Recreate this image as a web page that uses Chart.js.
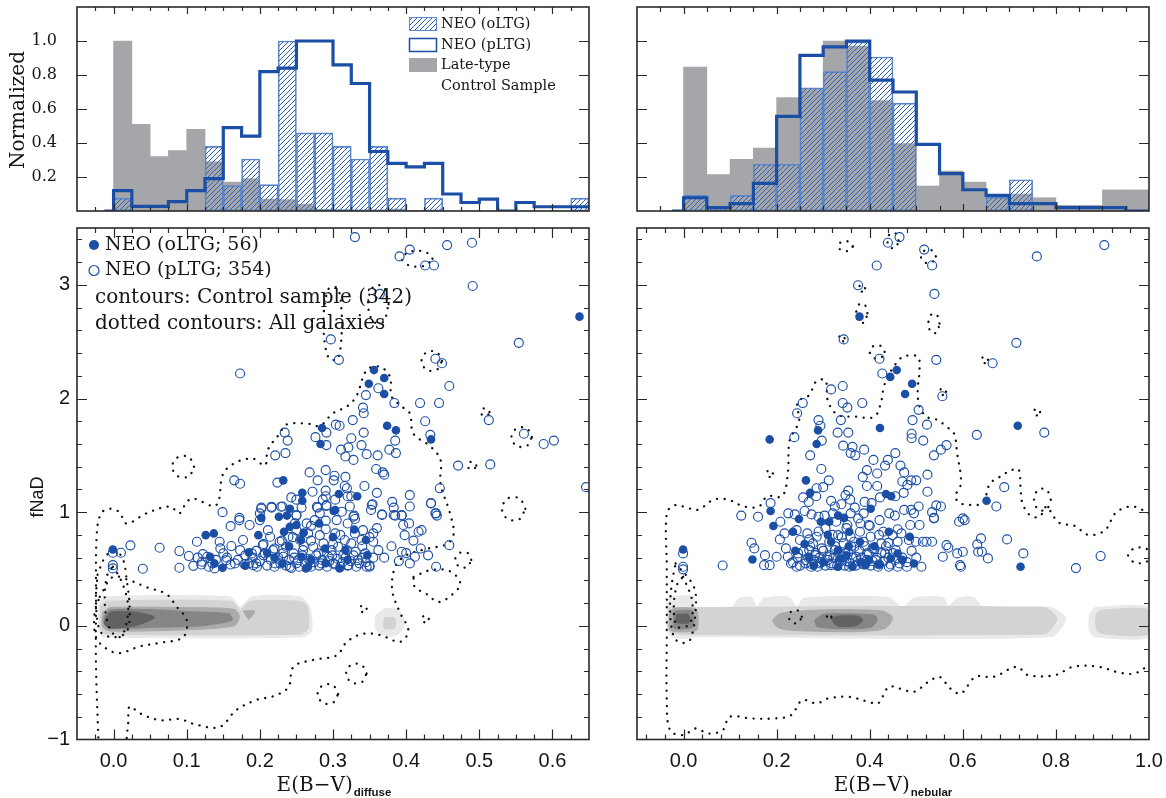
<!DOCTYPE html>
<html>
<head>
<meta charset="utf-8">
<title>NEO E(B-V) vs fNaD</title>
<script src="https://cdn.jsdelivr.net/npm/chart.js@4.4.1/dist/chart.umd.min.js"></script>
<style>
  html, body { margin: 0; padding: 0; background: #fff; }
  #page { position: relative; width: 1166px; height: 798px; overflow: hidden; }
  #page canvas { position: absolute; }
</style>
</head>
<body>
<div id="page">
  <canvas id="histDiffuse" width="600" height="220" style="left:0px;top:0px"></canvas>
  <canvas id="histNebular" width="566" height="220" style="left:600px;top:0px"></canvas>
  <canvas id="scatDiffuse" width="600" height="578" style="left:0px;top:220px"></canvas>
  <canvas id="scatNebular" width="566" height="578" style="left:600px;top:220px"></canvas>
</div>
<script>
const BLUE = '#1b4ea5';
const GREY = '#a5a6a9';

// ---- histograms, E(B-V)diffuse, bins of 0.025 ----
const diffuseCentres = [0.0125, 0.0375, 0.0625, 0.0875, 0.1125, 0.1375, 0.1625, 0.1875, 0.2125, 0.2375, 0.2625, 0.2875, 0.3125,
  0.3375, 0.3625, 0.3875, 0.4125, 0.4375, 0.4625, 0.4875, 0.5125, 0.5375, 0.5625, 0.5875, 0.6125, 0.6375];
const diffuseEdges = [0, 0.025, 0.05, 0.075, 0.1, 0.125, 0.15, 0.175, 0.2, 0.225, 0.25, 0.275, 0.3, 0.325, 0.35, 0.375,
  0.4, 0.425, 0.45, 0.475, 0.5, 0.525, 0.55, 0.575, 0.6, 0.625, 0.65];
const diffuseControl = [1.0, 0.51, 0.32, 0.355, 0.48, 0.29, 0.17, 0.19, 0.07, 0.067, 0.04, 0.01, 0.008, 0.006, 0.005, 0.012,
  0.004, 0, 0, 0, 0, 0, 0, 0, 0, 0];
const diffuseOLTG = [0.076, 0, 0, 0, 0, 0.38, 0.15, 0.306, 0.155, 1.0, 0.46, 0.46, 0.38, 0.306, 0.38, 0.076, 0, 0.076,
  0, 0, 0, 0, 0, 0, 0, 0.076];
const diffusePLTG = [0.12, 0.027, 0.027, 0.055, 0.12, 0.19, 0.49, 0.44, 0.82, 0.84, 1.0, 1.0, 0.86, 0.75, 0.35, 0.28,
  0.26, 0.28, 0.1, 0.05, 0.07, 0, 0.05, 0.025, 0.025, 0.025];

// ---- histograms, E(B-V)nebular, bins of 0.05 ----
const nebularCentres = [0.025, 0.075, 0.125, 0.175, 0.225, 0.275, 0.325, 0.375, 0.425, 0.475, 0.525, 0.575, 0.625, 0.675,
  0.725, 0.775, 0.825, 0.875, 0.925, 0.975];
const nebularEdges = [0, 0.05, 0.1, 0.15, 0.2, 0.25, 0.3, 0.35, 0.4, 0.45, 0.5, 0.55, 0.6, 0.65, 0.7, 0.75, 0.8, 0.85,
  0.9, 0.95, 1.0];
const nebularControl = [0.847, 0.214, 0.304, 0.37, 0.667, 0.72, 1.0, 0.97, 0.65, 0.396, 0.147, 0.235, 0.17, 0.096, 0.1,
  0.078, 0.033, 0.033, 0.124, 0.124];
const nebularOLTG = [0.092, 0.02, 0.092, 0.275, 0.275, 0.725, 0.82, 0.994, 0.906, 0.635, 0, 0, 0, 0.082, 0.184, 0, 0, 0, 0, 0];
const nebularPLTG = [0.078, 0.02, 0.043, 0.163, 0.557, 0.916, 0.965, 1.0, 0.77, 0.70, 0.392, 0.22, 0.125, 0.092, 0.043,
  0.043, 0.02, 0.02, 0.02, 0];

// ---- tick labels ----
const diffuseTicks = [0, 0.1, 0.2, 0.3, 0.4, 0.5, 0.6];
const nebularTicks = [0, 0.2, 0.4, 0.6, 0.8, 1.0];
const normTicks = [0.2, 0.4, 0.6, 0.8, 1.0];
const fnadTicks = [-1, 0, 1, 2, 3];

// ---- scatter: E(B-V)diffuse vs fNaD ----
const oLTGdiffuse = [
  [0.637,2.72],[0.356,2.25],[0.370,2.18],[0.349,2.13],[0.370,2.04],[0.374,1.76],[0.386,1.72],[0.434,1.64],[0.285,1.74],
  [0.283,1.60],[0.232,1.28],[0.258,1.17],[0.258,1.10],[0.308,1.16],[0.333,1.14],[0.241,1.03],[0.301,1.01],[0.226,0.96],
  [0.237,0.97],[0.202,0.95],[-0.001,0.672],[0.126,0.798],[0.137,0.813],[0.132,0.608],[0.138,0.549],[0.149,0.511],
  [0.185,0.646],[0.198,0.798],[0.233,0.828],[0.241,0.872],[0.231,0.549],[0.25,0.887],[0.256,0.755],[0.257,0.608],
  [0.263,0.505],[0.266,0.52],[0.281,0.901],[0.289,0.681],[0.303,1.019],[0.317,0.666],[0.309,0.505],[0.329,0.848],
  [0.347,0.622],[0.345,0.755],[0.22,0.60],[0.27,0.58],[0.29,0.55],[0.24,0.70],[0.30,0.78],[0.21,0.64],[0.32,0.58],
  [0.18,0.53],[0.26,0.82]
];
const pLTGdiffuse = [
  [0.330,3.42],[0.391,3.25],[0.405,3.31],[0.426,3.17],[0.438,3.17],[0.456,3.35],[0.490,3.37],[0.491,2.99],[0.364,2.92],
  [0.297,2.52],[0.308,2.34],[0.554,2.49],[0.173,2.22],[0.440,2.35],[0.449,2.31],[0.459,2.11],[0.362,2.09],[0.345,2.03],
  [0.384,1.96],[0.419,1.96],[0.445,1.96],[0.341,1.92],[0.342,1.87],[0.327,1.81],[0.304,1.77],[0.309,1.76],[0.426,1.80],
  [0.513,1.81],[0.234,1.70],[0.291,1.70],[0.342,1.70],[0.433,1.68],[0.238,1.63],[0.276,1.66],[0.325,1.65],[0.385,1.63],
  [0.561,1.69],[0.588,1.60],[0.602,1.63],[0.291,1.59],[0.339,1.59],[0.311,1.55],[0.321,1.57],[0.221,1.50],[0.235,1.52],
  [0.317,1.49],[0.328,1.46],[0.346,1.51],[0.361,1.50],[0.377,1.55],[0.386,1.52],[0.471,1.41],[0.515,1.42],[0.646,1.22],
  [0.268,1.35],[0.290,1.37],[0.302,1.32],[0.301,1.28],[0.317,1.31],[0.359,1.38],[0.368,1.35],[0.370,1.33],[0.279,1.28],
  [0.343,1.23],[0.165,1.28],[0.173,1.25],[0.224,1.26],[0.316,1.23],[0.319,1.21],[0.446,1.21],[0.290,1.19],[0.272,1.18],
  [0.360,1.17],[0.290,1.14],[0.243,1.13],[0.250,1.11],[0.286,1.11],[0.320,1.14],[0.325,1.14],[0.405,1.15],[0.434,1.08],
  [0.381,1.09],[0.354,1.07],[0.405,1.05],[0.383,1.04],[0.149,1.00],[0.202,1.04],[0.216,1.04],[0.231,1.05],[0.257,1.04],
  [0.279,1.04],[0.291,1.06],[0.303,1.11],[0.323,1.05],[0.329,0.97],[0.352,1.02],[0.367,0.98],[0.385,0.97],[0.394,0.97],
  [0.440,0.99],[0.442,0.97],[0.172,0.95],[0.200,0.99],[0.250,0.97],[0.282,0.99],
  [-0.001,0.643],[0.010,0.643],[0.023,0.708],[-0.001,0.534],[-0.001,0.505],[0.040,0.502],[0.063,0.687],[0.090,0.658],
  [0.103,0.614],[0.090,0.511],[0.109,0.528],[0.114,0.740],[0.122,0.631],[0.121,0.564],[0.128,0.608],[0.130,0.520],
  [0.138,0.505],[0.145,0.740],[0.146,0.681],[0.150,0.637],[0.154,0.578],[0.160,0.877],[0.161,0.702],[0.166,0.549],
  [0.172,0.930],[0.173,0.666],[0.177,0.755],[0.179,0.543],[0.186,0.887],[0.189,0.637],[0.191,0.534],[0.195,0.549],
  [0.200,0.930],[0.202,1.030],[0.204,0.710],[0.207,0.637],[0.211,0.842],[0.214,0.784],[0.216,1.048],[0.218,0.666],
  [0.221,0.549],[0.227,0.740],[0.229,1.048],[0.232,0.608],[0.236,0.696],[0.239,0.784],[0.241,0.520],[0.246,0.637],
  [0.248,0.901],[0.250,0.975],[0.252,0.578],[0.255,0.755],[0.259,0.666],[0.264,0.901],[0.266,0.813],[0.269,0.578],
  [0.273,0.696],[0.275,0.930],[0.278,1.048],[0.280,0.637],[0.282,0.798],[0.284,0.549],[0.287,0.725],[0.290,0.925],
  [0.291,1.054],[0.294,0.608],[0.298,0.666],[0.300,0.549],[0.303,0.813],[0.305,0.930],[0.307,0.696],[0.312,1.004],
  [0.314,0.622],[0.316,0.755],[0.319,0.666],[0.321,0.534],[0.325,0.725],[0.328,0.960],[0.330,0.813],[0.331,0.652],
  [0.334,0.578],[0.339,0.755],[0.341,0.842],[0.344,0.637],[0.346,0.520],[0.350,0.520],[0.353,1.063],[0.355,0.813],
  [0.355,0.740],[0.362,0.666],[0.367,0.975],[0.383,0.975],[0.394,0.652],[0.394,0.975],[0.396,0.887],[0.398,0.798],
  [0.404,0.901],[0.405,0.549],[0.412,0.608],[0.417,0.828],[0.421,0.842],[0.434,1.077],[0.441,0.989],[0.441,0.520],
  [0.459,0.710],
  [0.185,0.55],[0.19,0.60],[0.196,0.52],[0.20,0.57],[0.205,0.62],[0.21,0.53],[0.215,0.58],[0.22,0.52],[0.225,0.60],
  [0.228,0.55],[0.232,0.64],[0.236,0.53],[0.24,0.58],[0.243,0.51],[0.247,0.60],[0.25,0.55],[0.254,0.52],[0.258,0.62],
  [0.262,0.55],[0.266,0.59],[0.27,0.52],[0.274,0.56],[0.277,0.62],[0.281,0.53],[0.285,0.58],[0.288,0.65],[0.292,0.52],
  [0.295,0.57],[0.299,0.62],[0.303,0.54],[0.306,0.59],[0.31,0.52],[0.313,0.56],[0.317,0.60],[0.32,0.53],[0.324,0.57],
  [0.328,0.62],[0.332,0.52],[0.336,0.55],[0.34,0.60],[0.345,0.56],[0.35,0.53],[0.355,0.60],[0.26,0.70],[0.27,0.75],
  [0.245,0.78],[0.30,0.72],[0.31,0.80],[0.29,0.85],[0.32,0.90],[0.34,0.70],[0.35,0.78],[0.36,0.86],[0.33,0.94],
  [0.27,0.88],[0.25,0.84],[0.23,0.75],[0.22,0.68],[0.205,0.72],[0.195,0.66],[0.18,0.62],[0.17,0.58],[0.16,0.54],
  [0.155,0.60],[0.14,0.58],[0.135,0.55],[0.12,0.54],[0.115,0.60],[0.37,0.60],[0.38,0.70],[0.39,0.57],[0.40,0.64],
  [0.41,0.75],[0.42,0.68],[0.43,0.62]
];

// ---- scatter: E(B-V)nebular vs fNaD ----
const oLTGnebular = [
  [0.378,2.72],[0.458,2.25],[0.444,2.19],[0.491,2.13],[0.476,2.04],[0.422,1.74],[0.718,1.76],[0.185,1.64],[0.289,1.72],
  [0.286,1.60],[0.263,1.28],[0.272,1.17],[0.435,1.16],[0.446,1.14],[0.651,1.10],[0.187,1.01],[0.402,1.03],[0.332,0.97],
  [0.345,0.95],[0.248,0.94],[-0.001,0.672],[0.193,0.878],[0.148,0.584],[0.235,0.828],[0.295,0.916],[0.313,0.916],
  [0.317,0.74],[0.332,0.666],[0.336,0.593],[0.332,0.52],[0.356,0.828],[0.363,0.52],[0.379,0.74],[0.391,0.534],
  [0.398,0.578],[0.441,0.828],[0.445,0.593],[0.46,0.637],[0.486,0.784],[0.495,0.549],[0.724,0.52],[0.27,0.60],
  [0.30,0.56],[0.35,0.62],[0.41,0.70],[0.26,0.72],[0.38,0.56],[0.42,0.54],[0.31,0.80],[0.47,0.58],[0.24,0.66],
  [0.355,0.70],[0.28,0.53]
];
const pLTGnebular = [
  [0.464,3.42],[0.439,3.37],[0.517,3.31],[0.534,3.17],[0.415,3.17],[0.904,3.35],[0.759,3.25],[0.375,2.996],[0.539,2.92],
  [0.344,2.52],[0.715,2.49],[0.421,2.35],[0.543,2.34],[0.664,2.31],[0.427,2.22],[0.317,2.08],[0.342,2.11],[0.556,2.02],
  [0.256,1.96],[0.342,1.96],[0.384,1.96],[0.244,1.87],[0.352,1.92],[0.505,1.90],[0.290,1.81],[0.338,1.81],[0.492,1.81],
  [0.294,1.76],[0.331,1.70],[0.354,1.70],[0.523,1.77],[0.775,1.70],[0.238,1.66],[0.490,1.69],[0.490,1.65],[0.630,1.68],
  [0.297,1.63],[0.515,1.63],[0.343,1.585],[0.363,1.575],[0.388,1.55],[0.565,1.59],[0.553,1.55],[0.272,1.50],[0.359,1.52],
  [0.369,1.50],[0.455,1.52],[0.538,1.50],[0.408,1.46],[0.433,1.41],[0.466,1.41],[0.439,1.46],[0.296,1.38],[0.394,1.37],
  [0.385,1.31],[0.416,1.34],[0.474,1.35],[0.524,1.33],[0.312,1.28],[0.300,1.22],[0.286,1.21],[0.394,1.23],[0.416,1.23],
  [0.470,1.27],[0.481,1.24],[0.489,1.28],[0.500,1.28],[0.354,1.19],[0.524,1.18],[0.689,1.22],[0.257,1.13],[0.269,1.09],
  [0.285,1.14],[0.317,1.10],[0.325,1.05],[0.339,1.07],[0.348,1.15],[0.358,1.11],[0.368,1.04],[0.389,1.09],[0.404,1.08],
  [0.422,1.13],[0.455,1.14],[0.473,1.17],[0.489,1.02],[0.505,1.05],[0.534,1.00],[0.543,1.06],[0.553,1.05],[0.672,1.05],
  [0.187,1.08],[0.124,0.97],[0.160,0.96],[0.225,0.99],[0.239,0.98],[0.260,1.01],[0.275,0.98],[0.303,0.97],[0.321,0.99],
  [0.359,0.99],[0.387,0.99],[0.442,0.99],[0.454,0.97],[0.474,1.02],[0.495,0.99],[0.538,0.95],[0.600,0.945],
  [-0.001,0.637],[-0.001,0.52],[-0.001,0.497],[0.084,0.531],[0.146,0.731],[0.152,0.681],[0.173,0.534],[0.185,0.534],
  [0.175,0.622],[0.200,0.608],[0.207,0.760],[0.208,0.916],[0.217,0.813],[0.220,0.681],[0.224,0.608],[0.231,0.549],
  [0.243,0.842],[0.243,0.520],[0.246,0.637],[0.250,0.755],[0.262,0.578],[0.266,0.813],[0.270,0.666],[0.274,0.520],
  [0.278,0.725],[0.282,0.622],[0.286,0.784],[0.290,0.960],[0.293,0.549],[0.297,0.681],[0.305,0.857],[0.309,0.608],
  [0.313,0.740],[0.317,0.534],[0.325,0.666],[0.328,0.916],[0.332,0.798],[0.336,0.578],[0.344,0.725],[0.348,0.637],
  [0.352,0.887],[0.356,0.520],[0.359,0.784],[0.367,0.696],[0.371,0.608],[0.375,0.945],[0.379,0.828],[0.383,0.549],
  [0.387,0.740],[0.394,0.637],[0.398,0.887],[0.402,0.784],[0.406,0.681],[0.414,0.578],[0.418,0.520],[0.421,0.930],
  [0.425,0.725],[0.429,0.828],[0.433,0.637],[0.441,0.520],[0.449,0.798],[0.456,0.666],[0.460,0.740],[0.464,0.549],
  [0.468,0.813],[0.480,0.520],[0.484,0.755],[0.487,0.887],[0.499,0.740],[0.507,0.887],[0.511,0.520],[0.514,0.740],
  [0.522,0.740],[0.534,0.740],[0.538,0.945],[0.557,0.608],[0.565,0.710],[0.569,0.687],[0.588,0.637],[0.592,0.916],
  [0.594,0.534],[0.596,0.520],[0.600,0.652],[0.604,0.930],[0.631,0.716],[0.633,0.652],[0.639,0.769],[0.641,0.652],
  [0.654,0.593],[0.695,0.760],[0.730,0.637],[0.843,0.508],[0.896,0.614],
  [0.235,0.56],[0.245,0.60],[0.25,0.53],[0.258,0.66],[0.262,0.55],[0.268,0.60],[0.272,0.70],[0.276,0.54],[0.28,0.58],
  [0.284,0.64],[0.288,0.52],[0.292,0.60],[0.296,0.56],[0.30,0.66],[0.305,0.53],[0.31,0.58],[0.314,0.62],[0.318,0.55],
  [0.322,0.60],[0.326,0.70],[0.33,0.53],[0.334,0.64],[0.338,0.57],[0.342,0.61],[0.346,0.53],[0.35,0.57],[0.354,0.65],
  [0.358,0.55],[0.362,0.60],[0.366,0.74],[0.37,0.53],[0.374,0.57],[0.378,0.66],[0.382,0.60],[0.386,0.54],[0.39,0.70],
  [0.394,0.58],[0.398,0.63],[0.402,0.53],[0.406,0.57],[0.41,0.67],[0.415,0.60],[0.42,0.54],[0.425,0.64],[0.43,0.57],
  [0.435,0.70],[0.44,0.60],[0.445,0.54],[0.45,0.64],[0.455,0.58],[0.46,0.52],[0.47,0.60],[0.48,0.56],[0.49,0.66],
  [0.50,0.60],[0.32,0.80],[0.35,0.86],[0.38,0.90],[0.40,0.88],[0.29,0.83],[0.27,0.76],[0.42,0.80],[0.44,0.73],
  [0.46,0.85],[0.34,0.78],[0.36,0.70]
];

// ---- control-sample filled contours (lightest -> darkest) ----
const diffuseLevel1 = [
  [[-0.02,0.2],[-0.012,0.255],[0.159,0.255],[0.173,0.167],[0.189,0.255],[0.255,0.255],[0.268,0.167],[0.271,-0.04],[0.259,-0.097],[-0.012,-0.097],[-0.02,-0.05]],
  [[0.358,0.09],[0.37,0.149],[0.385,0.149],[0.396,0.09],[0.396,-0.025],[0.385,-0.085],[0.37,-0.085],[0.358,-0.025]]
];
const diffuseLevel2 = [
  [[-0.018,0.17],[-0.01,0.215],[0.162,0.215],[0.173,0.14],[0.186,0.215],[0.255,0.215],[0.265,0.17],[0.266,-0.02],[0.255,-0.072],[-0.01,-0.072],[-0.018,-0.03]],
  [[0.37,0.07],[0.384,0.07],[0.384,-0.02],[0.37,-0.02]]
];
const diffuseLevel3 = [
  [[-0.015,0.12],[-0.005,0.16],[0.1,0.16],[0.165,0.145],[0.172,0.08],[0.165,0.0],[0.1,-0.035],[-0.005,-0.045],[-0.015,-0.01]],
  [[0.177,0.13],[0.193,0.13],[0.185,0.06]]
];
const diffuseLevel4 = [
  [[-0.013,0.08],[-0.005,0.14],[0.06,0.14],[0.1,0.125],[0.158,0.105],[0.162,0.05],[0.12,0.0],[0.06,-0.012],[-0.005,-0.022],[-0.013,0.02]],
  [[0.085,0.09],[0.105,0.1],[0.11,0.075],[0.09,0.07]]
];
const diffuseLevel5 = [
  [[-0.012,0.05],[-0.004,0.12],[0.03,0.12],[0.056,0.075],[0.03,0.0],[-0.004,-0.02],[-0.012,0.01]]
];
const nebularLevel1 = [
  [[-0.036,0.226],[-0.025,0.256],[0.022,0.256],[0.026,0.162],[0.103,0.162],[0.119,0.241],[0.146,0.25],[0.158,0.168],[0.173,0.244],[0.227,0.25],[0.243,0.168],[0.259,0.244],[0.441,0.25],[0.472,0.162],[0.495,0.244],[0.557,0.25],[0.569,0.173],[0.588,0.244],[0.623,0.25],[0.646,0.162],[0.79,0.162],[0.821,0.065],[0.79,-0.096],[0.022,-0.096],[0.01,-0.11],[-0.025,-0.096],[-0.036,-0.04]],
  [[0.883,0.162],[1.0,0.162],[1.0,-0.096],[0.883,-0.096],[0.872,-0.04],[0.872,0.095]]
];
const nebularLevel2 = [
  [[-0.032,0.16],[0.775,0.16],[0.802,0.065],[0.782,-0.06],[0.75,-0.075],[0.0,-0.075],[-0.032,-0.04]],
  [[0.9,0.14],[1.0,0.14],[1.0,-0.07],[0.9,-0.07],[0.888,-0.04],[0.885,0.04],[0.888,0.11]]
];
const nebularLevel3 = [
  [[0.191,0.05],[0.208,0.109],[0.286,0.138],[0.425,0.132],[0.449,0.074],[0.433,-0.023],[0.363,-0.052],[0.224,-0.037],[0.2,-0.008]],
  [[-0.03,0.12],[-0.02,0.155],[0.02,0.155],[0.03,0.12],[0.03,-0.03],[0.02,-0.05],[-0.02,-0.05],[-0.03,-0.03]]
];
const nebularLevel4 = [
  [[0.282,0.05],[0.301,0.103],[0.41,0.094],[0.416,0.05],[0.402,-0.014],[0.317,-0.023],[0.286,-0.003]],
  [[-0.02,0.13],[0.018,0.13],[0.022,0.0],[0.015,-0.02],[-0.02,-0.02]]
];
const nebularLevel5 = [
  [[0.317,0.06],[0.33,0.085],[0.375,0.085],[0.385,0.05],[0.37,0.0],[0.33,0.0]],
  [[-0.015,0.1],[0.01,0.1],[0.013,0.03],[-0.015,0.03]]
];

// ---- all-galaxy dotted contours ----
const diffuseDotted = [
  [[-0.0205,-1.05],[-0.024,-0.36],[-0.024,0.226],[-0.023,0.81],[-0.017,0.99],[-0.005,1.03],[0.008,1.0],[0.0175,0.9],[0.045,0.99],[0.077,1.05],[0.09,0.99],[0.1,1.09],[0.109,1.12],[0.14,1.06],[0.15,1.34],[0.168,1.44],[0.191,1.47],[0.207,1.41],[0.211,1.55],[0.227,1.69],[0.236,1.77],[0.264,1.78],[0.282,1.76],[0.3,1.87],[0.319,1.93],[0.332,2.02],[0.346,2.25],[0.364,2.28],[0.378,2.19],[0.38,2.02],[0.394,1.93],[0.405,1.87],[0.41,1.69],[0.433,1.58],[0.447,1.46],[0.447,1.25],[0.46,0.99],[0.465,0.81],[0.456,0.72],[0.43,0.68],[0.4,0.62],[0.385,0.52],[0.381,0.31],[0.392,0.11],[0.403,-0.04],[0.392,-0.14],[0.364,-0.08],[0.341,-0.07],[0.319,-0.14],[0.305,-0.26],[0.273,-0.3],[0.246,-0.36],[0.239,-0.54],[0.218,-0.62],[0.196,-0.65],[0.168,-0.74],[0.145,-0.89],[0.113,-0.87],[0.09,-0.82],[0.063,-0.83],[0.036,-0.77],[0.022,-0.71],[0.02,-0.85],[0.017,-1.05]],
  [[-0.019,0.255],[-0.001,0.43],[0.022,0.40],[0.045,0.34],[0.072,0.28],[0.086,0.17],[0.1,0.05],[0.095,-0.10],[0.063,-0.15],[0.036,-0.18],[0.008,-0.24],[-0.01,-0.2],[-0.024,-0.1],[-0.026,0.11],[-0.019,0.255]],
  [[-0.001,0.52],[0.008,0.43],[0.017,0.28],[0.02,0.14],[0.015,-0.04],[0.008,-0.1],[-0.003,-0.05],[-0.01,0.08],[-0.012,0.28],[-0.008,0.46],[-0.001,0.52]],
  [[-0.022,0.45],[-0.012,0.6],[0.0,0.66],[0.012,0.6],[0.018,0.4],[0.022,0.15],[0.018,-0.05],[0.0,-0.1],[-0.018,-0.05],[-0.024,0.2],[-0.022,0.45]],
  [[0.41,0.43],[0.433,0.49],[0.46,0.48],[0.474,0.37],[0.46,0.26],[0.444,0.21],[0.428,0.28],[0.412,0.34],[0.41,0.43]],
  [[0.110,1.40],[0.103,1.484],[0.088,1.484],[0.080,1.40],[0.088,1.316],[0.103,1.316],[0.110,1.40]],
  [[0.563,1.03],[0.555,1.121],[0.539,1.121],[0.531,1.03],[0.539,0.939],[0.555,0.939],[0.563,1.03]],
  [[0.572,1.66],[0.565,1.737],[0.551,1.737],[0.544,1.66],[0.551,1.583],[0.565,1.583],[0.572,1.66]],
  [[0.449,2.33],[0.442,2.407],[0.428,2.407],[0.421,2.33],[0.428,2.253],[0.442,2.253],[0.449,2.33]],
  [[0.376,2.83],[0.369,2.983],[0.355,2.983],[0.348,2.83],[0.355,2.677],[0.369,2.677],[0.376,2.83]],
  [[0.313,2.66],[0.307,2.965],[0.294,2.965],[0.287,2.66],[0.294,2.355],[0.307,2.355],[0.313,2.66]],
  [[0.436,3.23],[0.426,3.291],[0.405,3.291],[0.394,3.23],[0.405,3.169],[0.426,3.169],[0.436,3.23]],
  [[0.514,1.88],[0.511,1.91],[0.505,1.91],[0.502,1.88],[0.505,1.85],[0.511,1.85],[0.514,1.88]],
  [[0.496,1.41],[0.493,1.44],[0.487,1.44],[0.484,1.41],[0.487,1.38],[0.493,1.38],[0.496,1.41]],
  [[0.346,-0.42],[0.339,-0.343],[0.325,-0.343],[0.318,-0.42],[0.325,-0.497],[0.339,-0.497],[0.346,-0.42]],
  [[0.307,-0.60],[0.300,-0.523],[0.286,-0.523],[0.279,-0.60],[0.286,-0.677],[0.300,-0.677],[0.307,-0.60]],
  [[0.489,0.58],[0.484,0.641],[0.473,0.641],[0.467,0.58],[0.473,0.519],[0.484,0.519],[0.489,0.58]],
  [[0.431,0.06],[0.429,0.086],[0.424,0.086],[0.421,0.06],[0.424,0.034],[0.429,0.034],[0.431,0.06]],
  [[0.346,0.15],[0.344,0.176],[0.339,0.176],[0.336,0.15],[0.339,0.124],[0.344,0.124],[0.346,0.15]]
];
const nebularDotted = [
  [[1.0,0.99],[0.965,1.05],[0.93,1.0],[0.905,0.84],[0.87,0.8],[0.84,0.88],[0.81,0.9],[0.795,0.96],[0.78,1.05],[0.765,0.96],[0.745,0.97],[0.728,1.08],[0.724,1.22],[0.72,1.376],[0.705,1.37],[0.675,1.3],[0.658,1.25],[0.643,1.08],[0.619,1.063],[0.596,1.077],[0.584,1.136],[0.596,1.253],[0.588,1.517],[0.581,1.693],[0.565,1.752],[0.546,1.81],[0.522,1.84],[0.507,1.93],[0.503,2.075],[0.507,2.25],[0.503,2.368],[0.472,2.368],[0.455,2.3],[0.44,2.2],[0.43,2.1],[0.425,1.98],[0.41,1.84],[0.37,1.84],[0.33,1.86],[0.31,1.98],[0.305,2.16],[0.285,2.15],[0.27,2.03],[0.245,1.97],[0.248,1.8],[0.228,1.63],[0.224,1.34],[0.212,1.14],[0.18,1.14],[0.162,1.05],[0.13,1.05],[0.096,1.11],[0.065,1.11],[0.03,1.02],[0.0,1.05],[-0.02,1.06],[-0.036,0.99],[-0.036,0.52],[-0.036,-0.07],[-0.036,-0.65],[-0.029,-0.918],[-0.001,-0.962],[0.026,-0.903],[0.053,-0.947],[0.084,-0.918],[0.099,-0.801],[0.146,-0.815],[0.193,-0.815],[0.231,-0.786],[0.255,-0.654],[0.286,-0.683],[0.309,-0.64],[0.355,-0.625],[0.398,-0.669],[0.418,-0.683],[0.441,-0.536],[0.464,-0.551],[0.495,-0.58],[0.526,-0.493],[0.55,-0.449],[0.573,-0.551],[0.596,-0.595],[0.627,-0.449],[0.666,-0.449],[0.716,-0.36],[0.74,-0.434],[0.798,-0.434],[0.837,-0.36],[0.891,-0.36],[0.938,-0.413],[0.969,-0.419],[1.0,-0.345]],
  [[-0.017,0.549],[0.022,0.344],[0.026,0.138],[0.014,-0.126],[-0.005,-0.149],[-0.021,-0.096],[-0.029,0.138],[-0.025,0.373],[-0.017,0.549]],
  [[-0.001,0.432],[0.018,0.226],[0.014,0.021],[-0.013,-0.008],[-0.021,0.168],[-0.013,0.373],[-0.001,0.432]],
  [[0.364,3.34],[0.356,3.379],[0.340,3.379],[0.332,3.34],[0.340,3.301],[0.356,3.301],[0.364,3.34]],
  [[0.462,3.39],[0.456,3.451],[0.444,3.451],[0.438,3.39],[0.444,3.329],[0.456,3.329],[0.462,3.39]],
  [[0.542,3.25],[0.534,3.302],[0.518,3.302],[0.510,3.25],[0.518,3.198],[0.534,3.198],[0.542,3.25]],
  [[0.390,2.97],[0.387,2.996],[0.380,2.996],[0.376,2.97],[0.380,2.944],[0.387,2.944],[0.390,2.97]],
  [[0.395,2.75],[0.389,2.828],[0.377,2.828],[0.371,2.75],[0.377,2.672],[0.389,2.672],[0.395,2.75]],
  [[0.550,2.66],[0.544,2.738],[0.532,2.738],[0.526,2.66],[0.532,2.582],[0.544,2.582],[0.550,2.66]],
  [[0.346,2.53],[0.343,2.556],[0.337,2.556],[0.334,2.53],[0.337,2.504],[0.343,2.504],[0.346,2.53]],
  [[0.432,2.41],[0.424,2.462],[0.408,2.462],[0.400,2.41],[0.408,2.358],[0.424,2.358],[0.432,2.41]],
  [[0.654,2.34],[0.651,2.366],[0.644,2.366],[0.640,2.34],[0.644,2.314],[0.651,2.314],[0.654,2.34]],
  [[0.564,2.06],[0.561,2.086],[0.554,2.086],[0.550,2.06],[0.554,2.034],[0.561,2.034],[0.564,2.06]],
  [[0.766,1.88],[0.763,1.906],[0.756,1.906],[0.752,1.88],[0.756,1.854],[0.763,1.854],[0.766,1.88]],
  [[0.192,1.34],[0.189,1.366],[0.182,1.366],[0.178,1.34],[0.182,1.314],[0.189,1.314],[0.192,1.34]],
  [[0.789,1.11],[0.780,1.197],[0.762,1.197],[0.753,1.11],[0.762,1.023],[0.780,1.023],[0.789,1.11]],
  [[0.254,0.08],[0.247,0.132],[0.233,0.132],[0.226,0.08],[0.233,0.028],[0.247,0.028],[0.254,0.08]],
  [[1.005,0.62],[0.993,0.681],[0.968,0.681],[0.955,0.62],[0.968,0.559],[0.993,0.559],[1.005,0.62]],
  [[0.318,0.08],[0.316,0.102],[0.311,0.102],[0.308,0.08],[0.311,0.058],[0.316,0.058],[0.318,0.08]]
];

const LEVEL_COLOURS = ['#e9e9ea', '#d3d3d5', '#aaaaac', '#868688', '#626264'];

// ---------- helpers ----------
const xy = pts => pts.map(([x, y]) => ({ x, y }));
const barData = (centres, vals) => centres.map((x, i) => ({ x, y: vals[i] }));
function stepData(edges, vals, lead) {
  const out = [{ x: lead, y: 0 }];
  vals.forEach((v, i) => out.push({ x: edges[i], y: v }));
  out.push({ x: edges[edges.length - 1], y: vals[vals.length - 1] });
  return out;
}
function tickRange(from, to, step) {
  const t = [];
  for (let v = from; v <= to + 1e-9; v += step) t.push(+v.toFixed(4));
  return t;
}
function hatchPattern(canvas) {
  const c = document.createElement('canvas');
  c.width = 5; c.height = 5;
  const g = c.getContext('2d');
  g.strokeStyle = '#2e60b4';
  g.lineWidth = 1;
  g.beginPath();
  g.moveTo(-1, 6); g.lineTo(6, -1);
  g.moveTo(-1, 1); g.lineTo(1, -1);
  g.moveTo(4, 6); g.lineTo(6, 4);
  g.stroke();
  return canvas.getContext('2d').createPattern(c, 'repeat');
}

// frame box with inward ticks on all four sides
function framePlugin(t) {
  return {
    id: 'frame',
    afterDatasetsDraw(chart) {
      const { ctx, chartArea: a } = chart;
      const { x, y } = chart.scales;
      ctx.save();
      ctx.strokeStyle = '#2a2a2a';
      ctx.lineWidth = 1.2;
      ctx.beginPath();
      const inX = v => v > x.min + 1e-6 && v < x.max - 1e-6;
      const inY = v => v > y.min + 1e-6 && v < y.max - 1e-6;
      const vx = (vals, len) => vals.filter(inX).forEach(v => {
        const p = Math.round(x.getPixelForValue(v)) + 0.5;
        ctx.moveTo(p, a.bottom); ctx.lineTo(p, a.bottom - len);
        ctx.moveTo(p, a.top); ctx.lineTo(p, a.top + len);
      });
      const vy = (vals, len) => vals.filter(inY).forEach(v => {
        const p = Math.round(y.getPixelForValue(v)) + 0.5;
        ctx.moveTo(a.left, p); ctx.lineTo(a.left + len, p);
        ctx.moveTo(a.right, p); ctx.lineTo(a.right - len, p);
      });
      vx(t.xMinor, t.xMinorLen); vx(t.xMajor, t.xMajorLen);
      vy(t.yMinor, t.yMinorLen); vy(t.yMajor, t.yMajorLen);
      ctx.stroke();
      ctx.lineWidth = 1.6;
      ctx.strokeRect(a.left, a.top, a.right - a.left, a.bottom - a.top);
      ctx.restore();
    }
  };
}

// free text, legend swatches and axis titles
function notesPlugin(items) {
  return {
    id: 'notes',
    afterDraw(chart) {
      const ctx = chart.ctx;
      items.forEach(it => {
        ctx.save();
        if (it.kind === 'text') {
          ctx.translate(it.x, it.y);
          if (it.rotate) ctx.rotate(it.rotate);
          ctx.font = it.font;
          ctx.fillStyle = '#151515';
          ctx.textAlign = it.align || 'left';
          ctx.textBaseline = it.baseline || 'middle';
          ctx.fillText(it.text, 0, 0);
        } else if (it.kind === 'title') {
          ctx.font = it.font;
          const w1 = ctx.measureText(it.text).width;
          ctx.font = it.subFont;
          const w2 = ctx.measureText(it.sub).width;
          const x0 = it.x - (w1 + w2 + 1) / 2;
          ctx.fillStyle = '#151515';
          ctx.textAlign = 'left';
          ctx.textBaseline = 'alphabetic';
          ctx.font = it.font;
          ctx.fillText(it.text, x0, it.y);
          ctx.font = it.subFont;
          ctx.fillText(it.sub, x0 + w1 + 1, it.y + it.subDy);
        } else if (it.kind === 'dot' || it.kind === 'ring') {
          ctx.beginPath();
          ctx.arc(it.x, it.y, it.r, 0, Math.PI * 2);
          if (it.kind === 'dot') { ctx.fillStyle = BLUE; ctx.fill(); }
          else { ctx.strokeStyle = BLUE; ctx.lineWidth = 1.2; ctx.stroke(); }
        } else if (it.kind === 'box') {
          ctx.fillStyle = it.fill;
          ctx.fillRect(it.x, it.y, it.w, it.h);
          if (it.stroke) {
            ctx.strokeStyle = it.stroke;
            ctx.lineWidth = it.lw || 1;
            ctx.strokeRect(it.x + 0.5, it.y + 0.5, it.w - 1, it.h - 1);
          }
        }
        ctx.restore();
      });
    }
  };
}

const noPad = s => { s.paddingTop = 0; s.paddingBottom = 0; s.paddingLeft = 0; s.paddingRight = 0; };

// ---------- histograms ----------
function histChart(id, o) {
  const canvas = document.getElementById(id);
  const hatch = hatchPattern(canvas);
  return new Chart(canvas, {
    type: 'bar',
    data: {
      datasets: [
        { type: 'line', data: stepData(o.edges, o.pltg, o.lead), stepped: 'before', borderColor: BLUE,
          borderWidth: 3.2, pointRadius: 0, fill: false, borderJoinStyle: 'miter' },
        { data: barData(o.centres, o.oltg), backgroundColor: hatch, borderColor: '#5a86cc', borderWidth: 1,
          grouped: false, barPercentage: 1, categoryPercentage: 1, borderSkipped: false },
        { data: barData(o.centres, o.control), backgroundColor: GREY, borderWidth: 0,
          grouped: false, barPercentage: 1, categoryPercentage: 1 }
      ]
    },
    options: {
      responsive: false, animation: false, devicePixelRatio: 1, events: [],
      layout: { autoPadding: false, padding: { left: 0, top: 7, right: o.padRight, bottom: 0 } },
      plugins: { legend: { display: false }, tooltip: { enabled: false } },
      scales: {
        x: { type: 'linear', min: o.xmin, max: o.xmax, offset: false,
          ticks: { display: false }, grid: { display: false }, border: { display: false },
          afterFit: s => { s.height = 9; noPad(s); } },
        y: { min: 0, max: 1.2,
          afterBuildTicks: s => { s.ticks = normTicks.map(v => ({ value: v })); },
          ticks: { display: o.yLabels, padding: 12, color: '#151515',
            font: { family: 'DejaVu Serif', size: 16 }, callback: v => v.toFixed(1) },
          grid: { display: false }, border: { display: false },
          afterFit: s => { s.width = o.axisWidth; noPad(s); } }
      }
    },
    plugins: [framePlugin(o.ticks), notesPlugin(o.notes(hatch))]
  });
}

histChart('histDiffuse', {
  centres: diffuseCentres, edges: diffuseEdges, control: diffuseControl, oltg: diffuseOLTG, pltg: diffusePLTG,
  lead: -0.0125, xmin: -0.05, xmax: 0.65, padRight: 11, axisWidth: 77, yLabels: true,
  ticks: { xMajor: diffuseTicks, xMinor: tickRange(-0.05, 0.65, 0.025), xMajorLen: 7, xMinorLen: 4,
    yMajor: normTicks, yMinor: [], yMajorLen: 10, yMinorLen: 0 },
  notes: hatch => [
    { kind: 'text', text: 'Normalized', x: 19, y: 110, rotate: -Math.PI / 2, align: 'center', font: '20px "DejaVu Serif"' },
    { kind: 'box', x: 409, y: 17, w: 28, h: 14, fill: hatch, stroke: '#5a86cc' },
    { kind: 'box', x: 409, y: 38, w: 28, h: 14, fill: '#ffffff', stroke: BLUE, lw: 1.5 },
    { kind: 'box', x: 409, y: 58, w: 28, h: 14, fill: GREY },
    { kind: 'text', text: 'NEO (oLTG)', x: 441, y: 24, font: '14.5px "DejaVu Serif"' },
    { kind: 'text', text: 'NEO (pLTG)', x: 441, y: 45, font: '14.5px "DejaVu Serif"' },
    { kind: 'text', text: 'Late-type', x: 441, y: 65, font: '14.5px "DejaVu Serif"' },
    { kind: 'text', text: 'Control Sample', x: 441, y: 86, font: '14.5px "DejaVu Serif"' }
  ]
});

histChart('histNebular', {
  centres: nebularCentres, edges: nebularEdges, control: nebularControl, oltg: nebularOLTG, pltg: nebularPLTG,
  lead: -0.025, xmin: -0.1, xmax: 1.0, padRight: 17, axisWidth: 37, yLabels: false,
  ticks: { xMajor: nebularTicks, xMinor: tickRange(-0.1, 1.0, 0.05), xMajorLen: 7, xMinorLen: 5,
    yMajor: normTicks, yMinor: [], yMajorLen: 10, yMinorLen: 0 },
  notes: () => []
});

// ---------- scatter panels ----------
function scatterChart(id, o) {
  const datasets = [
    { data: xy(o.filled), pointRadius: 4.3, backgroundColor: BLUE, borderColor: BLUE, borderWidth: 0 },
    { data: xy(o.open), pointRadius: 4.5, backgroundColor: 'rgba(0,0,0,0)', borderColor: BLUE, borderWidth: 1.15 }
  ];
  o.dotted.forEach(c => datasets.push({
    data: xy(c), showLine: true, pointRadius: 0, borderColor: '#0d0d0d', borderWidth: 2.3,
    borderDash: [0.1, 7.5], borderCapStyle: 'round', tension: 0.35, fill: false
  }));
  for (let k = o.levels.length - 1; k >= 0; k--) {
    o.levels[k].forEach(poly => datasets.push({
      data: xy(poly.concat([poly[0]])), showLine: true, pointRadius: 0, borderColor: LEVEL_COLOURS[k],
      borderWidth: 1, backgroundColor: LEVEL_COLOURS[k], fill: 'shape', tension: 0.25
    }));
  }
  return new Chart(document.getElementById(id), {
    type: 'scatter',
    data: { datasets },
    options: {
      responsive: false, animation: false, devicePixelRatio: 1, events: [],
      layout: { autoPadding: false, padding: { left: 0, top: 8, right: o.padRight, bottom: 0 } },
      plugins: { legend: { display: false }, tooltip: { enabled: false } },
      scales: {
        x: { type: 'linear', min: o.xmin, max: o.xmax,
          afterBuildTicks: s => { s.ticks = o.xTicks.map(v => ({ value: v })); },
          ticks: { padding: 10, color: '#151515', maxRotation: 0, autoSkip: false,
            font: { family: 'Liberation Sans', size: 20 }, callback: v => v.toFixed(1) },
          grid: { display: false, drawTicks: false }, border: { display: false },
          afterFit: s => { s.height = 58.5; noPad(s); } },
        y: { type: 'linear', min: -1, max: 3.5,
          afterBuildTicks: s => { s.ticks = fnadTicks.map(v => ({ value: v })); },
          ticks: { display: o.yLabels, padding: 7, color: '#151515',
            font: { family: 'Liberation Sans', size: 20 },
            callback: v => (v < 0 ? '\u2212' + (-v) : String(v)) },
          grid: { display: false, drawTicks: false }, border: { display: false },
          afterFit: s => { s.width = o.axisWidth; noPad(s); } }
      }
    },
    plugins: [framePlugin(o.ticks), notesPlugin(o.notes)]
  });
}

scatterChart('scatDiffuse', {
  filled: oLTGdiffuse, open: pLTGdiffuse, dotted: diffuseDotted,
  levels: [diffuseLevel1, diffuseLevel2, diffuseLevel3, diffuseLevel4, diffuseLevel5],
  xmin: -0.05, xmax: 0.65, xTicks: diffuseTicks, padRight: 11, axisWidth: 77, yLabels: true,
  ticks: { xMajor: diffuseTicks, xMinor: tickRange(-0.05, 0.65, 0.025), xMajorLen: 10, xMinorLen: 5,
    yMajor: fnadTicks, yMinor: tickRange(-1, 3.5, 0.2), yMajorLen: 10, yMinorLen: 5 },
  notes: [
    { kind: 'dot', x: 94, y: 25, r: 5 },
    { kind: 'text', text: 'NEO (oLTG; 56)', x: 105, y: 25, font: '19px "DejaVu Serif"' },
    { kind: 'ring', x: 94, y: 50.5, r: 5 },
    { kind: 'text', text: 'NEO (pLTG; 354)', x: 105, y: 50.5, font: '19px "DejaVu Serif"' },
    { kind: 'text', text: 'contours: Control sample (342)', x: 95, y: 78, font: '20px "DejaVu Serif"' },
    { kind: 'text', text: 'dotted contours: All galaxies', x: 95, y: 104, font: '20px "DejaVu Serif"' },
    { kind: 'text', text: 'fNaD', x: 38, y: 277, rotate: -Math.PI / 2, align: 'center', font: '18px "Liberation Sans"' },
    { kind: 'title', text: 'E(B\u2212V)', sub: 'diffuse', x: 334, y: 571, subDy: 5,
      font: '20px "DejaVu Serif"', subFont: 'bold 11.5px "Liberation Sans"' }
  ]
});

scatterChart('scatNebular', {
  filled: oLTGnebular, open: pLTGnebular, dotted: nebularDotted,
  levels: [nebularLevel1, nebularLevel2, nebularLevel3, nebularLevel4, nebularLevel5],
  xmin: -0.1, xmax: 1.0, xTicks: nebularTicks, padRight: 17, axisWidth: 37, yLabels: false,
  ticks: { xMajor: nebularTicks, xMinor: tickRange(-0.08, 1.0, 0.04), xMajorLen: 10, xMinorLen: 5,
    yMajor: fnadTicks, yMinor: tickRange(-1, 3.5, 0.2), yMajorLen: 10, yMinorLen: 5 },
  notes: [
    { kind: 'title', text: 'E(B\u2212V)', sub: 'nebular', x: 293, y: 571, subDy: 5,
      font: '20px "DejaVu Serif"', subFont: 'bold 11.5px "Liberation Sans"' }
  ]
});
</script>
</body>
</html>
